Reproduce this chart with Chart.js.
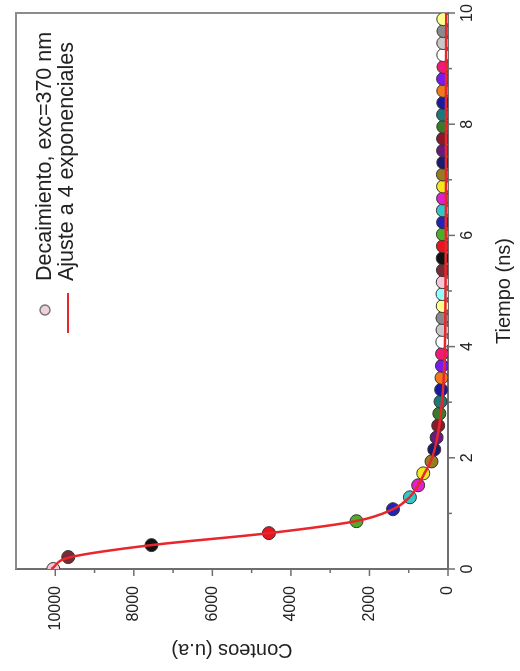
<!DOCTYPE html>
<html>
<head>
<meta charset="utf-8">
<script src="https://cdn.jsdelivr.net/npm/chart.js@4"></script>
<style>
  html, body { margin: 0; padding: 0; background: #fff; overflow: hidden; }
  #wrap { position: relative; width: 520px; height: 671px; overflow: hidden; background: #fff; }
  #c { position: absolute; left: 0; top: 0; transform-origin: 0 0; transform: translateY(671px) rotate(-90deg); }
</style>
</head>
<body>
<div id="wrap"><canvas id="c" width="671" height="520"></canvas></div>
<script>
// ---- data ----
const times = [0, 0.215, 0.43, 0.645, 0.86, 1.075, 1.29, 1.505, 1.72, 1.935,
  2.15, 2.365, 2.58, 2.795, 3.01, 3.225, 3.44, 3.655, 3.87, 4.085,
  4.3, 4.515, 4.73, 4.945, 5.16, 5.375, 5.59, 5.805, 6.02, 6.235,
  6.45, 6.665, 6.88, 7.095, 7.31, 7.525, 7.74, 7.955, 8.17, 8.385,
  8.6, 8.815, 9.03, 9.245, 9.46, 9.675, 9.89];
const counts = [10050, 9670, 7550, 4560, 2330, 1400, 970, 760, 630, 420,
  350, 290, 250, 220, 190, 175, 165, 155, 150, 145,
  140, 140, 135, 140, 135, 130, 135, 130, 130, 125,
  130, 125, 125, 130, 120, 125, 125, 120, 125, 120,
  120, 125, 115, 120, 120, 115, 120];
const fitTimes = [0, 0.215, 0.43, 0.645, 0.86, 1.075, 1.29, 1.505, 1.72, 1.935,
  2.15, 2.365, 2.58, 2.795, 3.01, 3.225, 3.44, 3.655, 3.87, 4.3,
  5, 6, 7, 8, 9, 10];
const fitCounts = [10100, 9600, 7550, 4560, 2350, 1400, 980, 760, 600, 440,
  340, 275, 225, 185, 155, 130, 110, 95, 85, 72,
  62, 56, 52, 50, 48, 46];
const timeTicks = [0, 2, 4, 6, 8, 10];
const countTicks = [0, 2000, 4000, 6000, 8000, 10000];
const labelPoints = 'Decaimiento, exc=370 nm';
const labelFit = 'Ajuste a 4 exponenciales';
const titleX = 'Tiempo (ns)';
const titleY = 'Conteos (u.a)';

// ---- styles ----
const cycle = ['#111111', '#e8141e', '#4caf2a', '#2424b4', '#33c6c6', '#e020c8', '#f5e61e', '#9a7a1e',
  '#1a1a6e', '#6a1a7a', '#8a1a2a', '#3a7a2a', '#1a7a7a', '#1a1aa0', '#f07a1a', '#7a1af0',
  '#f01a7a', '#ffffff', '#c8c8c8', '#8a8a8a', '#ffff90', '#90ffff', '#f4c6d6', '#7a2a34'];
const pointColors = times.map((_, i) => cycle[(i + 22) % 24]);
const FONT = '"Liberation Sans", Arial, sans-serif';
const AXIS = '#6e6e6e';
const FRAME = '#8c8c8c';
const TEXT = '#222';
const RED = '#e8262b';

const extras = {
  id: 'extras',
  beforeDatasetsDraw(chart) {
    const {ctx, chartArea: a, scales: {x, y}} = chart;
    ctx.save();
    ctx.strokeStyle = FRAME; ctx.lineWidth = 2;
    ctx.beginPath();
    ctx.moveTo(a.left, a.top); ctx.lineTo(a.right, a.top); ctx.lineTo(a.right, a.bottom);
    ctx.stroke();
    ctx.strokeStyle = AXIS; ctx.lineWidth = 1.5;
    for (let v = 0; v <= 10; v += 1) {
      const px = x.getPixelForValue(v);
      const len = v % 2 === 0 ? 7 : 4;
      ctx.beginPath(); ctx.moveTo(px, a.bottom); ctx.lineTo(px, a.bottom + len); ctx.stroke();
    }
    for (let v = 0; v <= 10000; v += 1000) {
      const py = y.getPixelForValue(v);
      const len = v % 2000 === 0 ? 7 : 4;
      ctx.beginPath(); ctx.moveTo(a.left, py); ctx.lineTo(a.left - len, py); ctx.stroke();
    }
    ctx.restore();
  },
  afterDatasetsDraw(chart) {
    const {ctx} = chart;
    ctx.save();
    ctx.font = '21.5px ' + FONT;
    ctx.textBaseline = 'middle';
    ctx.textAlign = 'left';
    ctx.beginPath(); ctx.arc(361, 45, 5, 0, Math.PI * 2);
    ctx.fillStyle = '#f0d0dc'; ctx.fill();
    ctx.strokeStyle = '#777'; ctx.lineWidth = 1.5; ctx.stroke();
    ctx.fillStyle = TEXT;
    ctx.fillText(labelPoints, 390, 45);
    ctx.beginPath(); ctx.moveTo(338, 68); ctx.lineTo(378, 68);
    ctx.strokeStyle = RED; ctx.lineWidth = 2; ctx.stroke();
    ctx.fillText(labelFit, 390, 67);
    ctx.restore();
  }
};

new Chart(document.getElementById('c'), {
  type: 'scatter',
  data: {
    datasets: [
      {
        label: labelFit,
        data: fitTimes.map((t, i) => ({x: t, y: fitCounts[i]})),
        showLine: true,
        pointRadius: 0,
        borderColor: RED,
        borderWidth: 2.5,
        cubicInterpolationMode: 'monotone'
      },
      {
        label: labelPoints,
        data: times.map((t, i) => ({x: t, y: counts[i]})),
        showLine: false,
        pointRadius: 6.5,
        pointHoverRadius: 6.5,
        pointBackgroundColor: pointColors,
        pointBorderColor: '#333',
        pointBorderWidth: 1
      }
    ]
  },
  options: {
    responsive: false,
    animation: false,
    devicePixelRatio: 1,
    layout: {padding: {top: 16, right: 13, left: 0, bottom: 0}},
    plugins: {legend: {display: false}, tooltip: {enabled: false}},
    scales: {
      x: {
        type: 'linear', min: 0, max: 10,
        afterFit: s => { s.height = 72; s.paddingLeft = 0; s.paddingRight = 0; },
        afterBuildTicks: s => { s.ticks = timeTicks.map(v => ({value: v})); },
        grid: {display: false, drawTicks: false},
        border: {display: true, color: AXIS, width: 2},
        ticks: {color: TEXT, font: {family: FONT, size: 16}, padding: 10, maxRotation: 0, callback: v => String(v)},
        title: {display: true, text: titleX, color: TEXT, font: {family: FONT, size: 20}, padding: {top: 0, bottom: 4}}
      },
      y: {
        type: 'linear', min: 0, max: 11000,
        afterFit: s => { s.width = 102; s.paddingTop = 0; s.paddingBottom = 0; },
        afterBuildTicks: s => { s.ticks = countTicks.map(v => ({value: v})); },
        grid: {display: false, drawTicks: false},
        border: {display: true, color: AXIS, width: 2},
        ticks: {color: TEXT, font: {family: FONT, size: 16}, padding: 17, callback: v => String(v)},
        title: {display: true, text: titleY, color: TEXT, font: {family: FONT, size: 20}, padding: {top: 9, bottom: 0}}
      }
    }
  },
  plugins: [extras]
});
</script>
</body>
</html>
